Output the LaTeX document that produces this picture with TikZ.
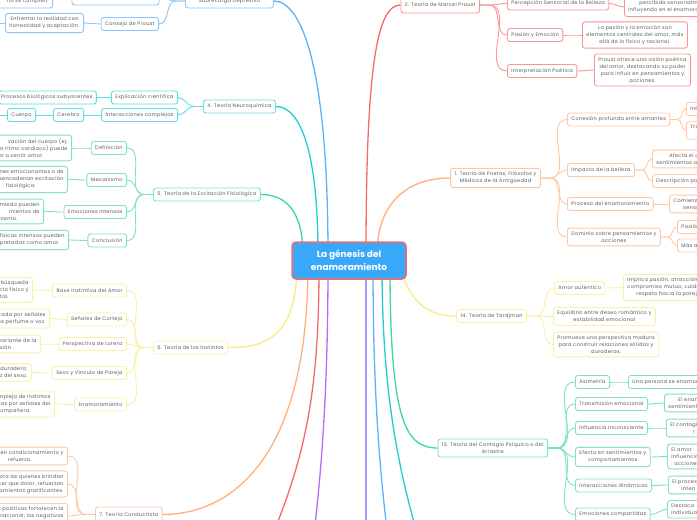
\documentclass[tikz,border=0pt]{standalone}
\usepackage{fontspec}
\setmainfont{Poppins}
\newfontfamily\boxfont{Poppins}[LetterSpace=6]
\definecolor{txt}{HTML}{5A5A5A}
\definecolor{blueL}{HTML}{5DB2F6}
\definecolor{blueB}{HTML}{8CC6F8}
\definecolor{tealL}{HTML}{1ECCD4}
\definecolor{tealB}{HTML}{62DCE1}
\definecolor{greenL}{HTML}{3DD5A0}
\definecolor{greenB}{HTML}{80E2C2}
\definecolor{yellowL}{HTML}{F8EC80}
\definecolor{yellowB}{HTML}{FAF0A6}
\definecolor{orangeL}{HTML}{FFAF7A}
\definecolor{orangeB}{HTML}{FFC8A2}
\definecolor{redL}{HTML}{F76868}
\definecolor{redB}{HTML}{F89696}
\definecolor{purpleL}{HTML}{B46CF0}
\definecolor{lavL}{HTML}{A39CFF}
\definecolor{rootF}{HTML}{3AA8F8}
\definecolor{rootB}{HTML}{F26C6C}
\begin{document}
\begin{tikzpicture}[
        x=1pt, y=-1pt,
        box/.style={
            draw,
            rounded corners=2.5pt,
            fill=white,
            line width=0.9pt,
            text=txt,
            font=\boxfont\fontsize{5}{7}\selectfont,
            align=center,
            inner xsep=4pt,
            inner ysep=3.5pt,
            minimum height=13pt
        },
        bbox/.style={box, draw=blueB},
        tbox/.style={box, draw=tealB},
        gbox/.style={box, draw=greenB},
        ybox/.style={box, draw=yellowB},
        obox/.style={box, draw=orangeB},
        rbox/.style={box, draw=redB},
        lcut/.style={text width=110pt, align=right, anchor=east},
        rcut/.style={text width=120pt, align=left, anchor=west},
        trunk/.style={line width=1.3pt},
        twig/.style={line width=0.9pt},
        root/.style={
            draw=rootB,
            fill=rootF,
            line width=1.5pt,
            rounded corners=4pt,
            text=white,
            font=\fontsize{9}{12.5}\selectfont\bfseries,
            align=center,
            minimum width=114pt,
            minimum height=37pt
        }
    ]

    \useasboundingbox (0,0) rectangle (697,520);
    \clip (0,0) rectangle (697,520);

    % 3. blue branch (top left)
    \node[bbox, anchor=west, minimum width=88pt, minimum height=14pt] (sobre) at (185,1) {Sobrecarga Depresiva};
    \node[bbox, minimum width=87pt, minimum height=14pt] (expect) at (115.5,-2) {};
    \node[bbox, lcut] (cumplen) at (53,1.5) {no se cumplen.};
    \node[bbox, anchor=east] (consejo) at (159,24) {Consejo de Proust};
    \node[bbox, anchor=east] (enfrentar) at (84,23) {Enfrentar la realidad con\\honestidad y aceptación.};
    \coordinate (enfOut) at (-20,23);

    % 4. teal branch
    \node[tbox, anchor=west] (neuro) at (203,106.5) {4. Teoría Neuroquímica};
    \node[tbox, anchor=east] (explic) at (178,97.5) {Explicación científica};
    \node[tbox, anchor=east] (interac) at (178,115) {Interacciones complejas};
    \node[tbox, anchor=west, inner xsep=2.5pt] (procesos) at (-2,97.5) {Procesos biológicos subyacentes.};
    \node[tbox, anchor=east] (cerebro) at (84,115) {Cerebro};
    \node[tbox, anchor=east] (cuerpo) at (36,115) {Cuerpo};
    \coordinate (cuerpoOut) at (-20,115);

    % 5. green branch
    \node[gbox, anchor=west] (excit) at (153,194.5) {5. Teoría de la Excitación Fisiológica};
    \node[gbox, anchor=east] (defin) at (127,148) {Definición};
    \node[gbox, anchor=east] (mecan) at (127,180) {Mecanismo};
    \node[gbox, anchor=east] (emoint) at (127,212) {Emociones Intensas};
    \node[gbox, anchor=east] (conclu) at (127,240.5) {Conclusión};
    \node[gbox, lcut] (definT) at (72,148) {vación del cuerpo (ej.\hspace*{10pt}\\del ritmo cardíaco) puede\\var a sentir amor.\hspace*{24pt}};
    \node[gbox, lcut] (mecanT) at (68,179.5) {nes emocionantes o de\\esencadenan excitación\\fisiológica.\hspace*{28pt}};
    \node[gbox, lcut] (emointT) at (44,211.5) {miedo pueden\\mientos de\hspace*{11pt}\\miento.\hspace*{22pt}};
    \node[gbox, lcut] (concluT) at (69,240) {s físicas intensas pueden\\erpretadas como amor.\hspace*{5pt}};

    % 6. yellow branch
    \node[ybox, anchor=west] (instin) at (153,347.5) {6. Teoría de los Instintos};
    \node[ybox, anchor=east] (base) at (127,290.5) {Base Instintiva del Amor};
    \node[ybox, anchor=east] (senal) at (127,319.5) {Señales de Cortejo};
    \node[ybox, anchor=east] (lorenz) at (127,344) {Perspectiva de Lorenz};
    \node[ybox, anchor=east] (sexo) at (127,373) {Sexo y Vínculo de Pareja};
    \node[ybox, anchor=east] (enam) at (127,404.5) {Enamoramiento};
    \node[ybox, lcut] (baseT) at (33,290) {e búsqueda\\cto físico y\\tal.\hspace*{20pt}};
    \node[ybox, lcut] (senalT) at (50,318.5) {erada por señales\\a perfume o voz.};
    \node[ybox, lcut] (lorenzT) at (41,344) {variante de la\\esión.\hspace*{24pt}};
    \node[ybox, lcut] (sexoT) at (32,372.5) {duradero;\\a del sexo.};
    \node[ybox, lcut] (enamT) at (55,404) {ompleja de instintos\\ías por señales del\hspace*{5pt}\\compañera.\hspace*{20pt}};

    % 7. orange branch (bottom left)
    \node[obox, anchor=west, minimum height=15pt] (conduc) at (95,514.5) {7. Teoría Conductista};
    \node[obox, lcut] (condA) at (68,456) {s en condicionamiento y\\refuerzo.\hspace*{32pt}};
    \node[obox, lcut] (condB) at (68,484) {mora de quienes brindan\\cer que dolor, refuerzan\\rtamientos gratificantes.};
    \node[obox, lcut, anchor=north east] (condC) at (68,503) {es positivas fortalecen la\\macional; las negativas\\\mbox{}};

    % 2. red branch (top right)
    \node[rbox, anchor=east, minimum height=16pt] (proust) at (480,5) {2. Teoría de Marcel Proust};
    \node[rbox, anchor=west] (percep) at (507,3.5) {Percepción Sensorial de la Belleza};
    \node[rbox, anchor=west] (pasion) at (507,35) {Pasión y Emoción};
    \node[rbox, anchor=west] (interp) at (507,71) {Interpretación Poética};
    \node[rbox, rcut] (percepT) at (624,7) {\hspace*{11pt}percibida sensorialme\\influyendo en el enamora};
    \node[rbox, anchor=west] (pasionT) at (582,35) {La pasión y la emoción son\\elementos centrales del amor, más\\allá de lo físico y racional.};
    \node[rbox, anchor=west] (interpT) at (594,70) {Proust ofrece una visión poética\\del amor, destacando su poder\\para influir en pensamientos y\\acciones.};

    % 1. orange branch (right)
    \node[obox, anchor=east] (poetas) at (541,178) {1. Teoría de Poetas, Filósofos y\\Médicos de la Antigüedad};
    \node[obox, anchor=west] (conex) at (567,119.5) {Conexión profunda entre amantes};
    \node[obox, anchor=west] (impacto) at (567,170) {Impacto de la belleza};
    \node[obox, anchor=west] (proceso) at (567,204) {Proceso del enamoramiento};
    \node[obox, anchor=west] (dominio) at (567,237) {Dominio sobre pensamientos y\\acciones};
    \node[obox, rcut] (conexA) at (686,109) {Int};
    \node[obox, rcut] (conexB) at (686,130.5) {Tra\\\mbox{}};
    \node[obox, rcut] (impactoA) at (652,159) {\hspace*{13pt}Afecta el c\\sentimientos a};
    \node[obox, rcut] (impactoB) at (652,181) {Descripción po};
    \node[obox, rcut] (procesoA) at (669,204) {Comienz\\\hspace*{10pt}senso};
    \node[obox, rcut] (dominioA) at (677,227) {Pasión};
    \node[obox, rcut] (dominioB) at (677,245.5) {Más a};

    % 14. yellow branch (right)
    \node[ybox, anchor=east] (tard) at (527,316) {14. Teoría de Tardjman};
    \node[ybox, anchor=west] (autent) at (554,288) {Amor auténtico};
    \node[ybox, anchor=west] (equil) at (553,316.5) {Equilibrio entre deseo romántico y\\estabilidad emocional};
    \node[ybox, anchor=west] (promu) at (553,344.5) {Promueve una perspectiva madura\\para construir relaciones sólidas y\\duraderas.};
    \node[ybox, rcut] (autentT) at (623,287.5) {Implica pasión, atracción\\compromiso mutuo, cuida\\\hspace*{9pt}respeto hacia la pareja};

    % 13. green branch (right)
    \node[gbox, anchor=east] (contag) at (548,448) {13. Teoría del Contagio Psíquico o del\\Arrastre};
    \node[gbox, anchor=west] (asim) at (575,382) {Asimetría};
    \node[gbox, anchor=west] (transm) at (575,404) {Transmisión emocional};
    \node[gbox, anchor=west] (influ) at (575,428) {Influencia inconsciente};
    \node[gbox, anchor=west] (efecto) at (575,457) {Efecto en sentimientos y\\comportamientos};
    \node[gbox, anchor=west] (interd) at (575,485.5) {Interacciones dinámicas};
    \node[gbox, anchor=west] (emocomp) at (575,514.5) {Emociones compartidas};
    \node[gbox, rcut] (asimT) at (628,382) {Una persona se enamora};
    \node[gbox, rcut] (transmT) at (664,403) {\hspace*{10pt}El enam\\sentimient};
    \node[gbox, rcut] (influT) at (666,428) {El contagi\\\hspace*{23pt}i};
    \node[gbox, rcut] (efectoT) at (667,456.5) {El amor\\influencia\\\hspace*{3pt}acciones};
    \node[gbox, rcut] (interdT) at (668,485) {El proces\\\hspace*{9pt}inten};
    \node[gbox, rcut, anchor=north west] (emocompT) at (667,500) {Destaca\\individual};

    % twigs, left trees
    \foreach \k in {consejo,expect}
        \draw[twig, blueB] (sobre.west) -- ++(-9,0) to[out=180,in=0] (\k.east);
    \draw[twig, blueB] (consejo.west) -- (enfrentar.east);
    \draw[twig, blueB] (enfrentar.west) -- (enfOut);

    \foreach \k in {explic,interac}
        \draw[twig, tealB] (neuro.west) -- ++(-9,0) to[out=180,in=0] (\k.east);
    \draw[twig, tealB] (explic.west) -- (procesos.east);
    \draw[twig, tealB] (interac.west) -- (cerebro.east);
    \draw[twig, tealB] (cerebro.west) -- (cuerpo.east);
    \draw[twig, tealB] (cuerpo.west) -- (cuerpoOut);

    \foreach \k in {defin,mecan,emoint,conclu}
        \draw[twig, greenB] (excit.west) -- ++(-9,0) to[out=180,in=0] (\k.east);
    \foreach \k in {defin,mecan,emoint,conclu}
        \draw[twig, greenB] (\k.west) to[out=180,in=0] (\k T.east);

    \foreach \k in {base,senal,lorenz,sexo,enam}
        \draw[twig, yellowB] (instin.west) -- ++(-9,0) to[out=180,in=0] (\k.east);
    \foreach \k in {base,senal,lorenz,sexo,enam}
        \draw[twig, yellowB] (\k.west) to[out=180,in=0] (\k T.east);

    \foreach \k in {condA,condB,condC}
        \draw[twig, orangeB] (conduc.west) -- ++(-9,0) to[out=180,in=0] (\k.east);

    % twigs, right trees
    \foreach \k in {percep,pasion,interp}
        \draw[twig, redB] (proust.east) -- ++(9,0) to[out=0,in=180] (\k.west);
    \foreach \k in {percep,pasion,interp}
        \draw[twig, redB] (\k.east) to[out=0,in=180] (\k T.west);

    \foreach \k in {conex,impacto,proceso,dominio}
        \draw[twig, orangeB] (poetas.east) -- ++(9,0) to[out=0,in=180] (\k.west);
    \foreach \k/\c in {conex/conexA,conex/conexB,impacto/impactoA,impacto/impactoB,dominio/dominioA,dominio/dominioB}
        \draw[twig, orangeB] (\k.east) -- ++(7,0) to[out=0,in=180] (\c.west);
    \draw[twig, orangeB] (proceso.east) -- (procesoA.west);

    \foreach \k in {autent,equil,promu}
        \draw[twig, yellowB] (tard.east) -- ++(9,0) to[out=0,in=180] (\k.west);
    \draw[twig, yellowB] (autent.east) to[out=0,in=180] (autentT.west);

    \foreach \k in {asim,transm,influ,efecto,interd,emocomp}
        \draw[twig, greenB] (contag.east) -- ++(9,0) to[out=0,in=180] (\k.west);
    \foreach \k in {asim,transm,influ,efecto,interd,emocomp}
        \draw[twig, greenB] (\k.east) to[out=0,in=180] (\k T.west);

    % trunks from the root
    \coordinate (sP) at (377,255);
    \coordinate (sR) at (366,255);
    \coordinate (sB) at (328,255);
    \coordinate (sT) at (318,255);
    \coordinate (sG) at (303,255);
    \coordinate (sY) at (297,265);
    \coordinate (sO) at (308,265);
    \coordinate (sR2) at (319,265);
    \coordinate (sPu) at (328,265);
    \coordinate (sLa) at (366,265);
    \coordinate (sB2) at (373,265);
    \coordinate (sT2) at (382,265);
    \coordinate (sG2) at (390,265);
    \coordinate (sY2) at (400,265);
    \coordinate (offR) at (250,585);
    \coordinate (offPu) at (310,570);
    \coordinate (offLa) at (366,570);
    \coordinate (offB) at (392,570);
    \coordinate (offT) at (428,570);

    \draw[trunk, orangeL] (sP) .. controls (377,200) and (410,178) .. (poetas.west);
    \draw[trunk, redL] (sR) .. controls (366,60) and (378,5) .. (proust.west);
    \draw[trunk, blueL] (sB) .. controls (328,60) and (300,1) .. (sobre.east);
    \draw[trunk, tealL] (sT) .. controls (318,150) and (300,106.5) .. (neuro.east);
    \draw[trunk, greenL] (sG) .. controls (303,210) and (285,194.5) .. (excit.east);
    \draw[trunk, yellowL] (sY) .. controls (297,340) and (262,347.5) .. (instin.east);
    \draw[trunk, orangeL] (sO) .. controls (308,460) and (230,514.5) .. (conduc.east);
    \draw[trunk, redL] (sR2) .. controls (319,400) and (305,470) .. (offR);
    \draw[trunk, purpleL] (sPu) .. controls (328,420) and (318,500) .. (offPu);
    \draw[trunk, lavL] (sLa) -- (offLa);
    \draw[trunk, blueL] (sB2) .. controls (373,420) and (383,500) .. (offB);
    \draw[trunk, tealL] (sT2) .. controls (382,400) and (400,480) .. (offT);
    \draw[trunk, greenL] (sG2) .. controls (390,420) and (405,448) .. (contag.west);
    \draw[trunk, yellowL] (sY2) .. controls (410,305) and (430,316) .. (tard.west);

    % root
    \node[root] (genesis) at (349,260.5) {La génesis del\\enamoramiento};

\end{tikzpicture}
\end{document}
